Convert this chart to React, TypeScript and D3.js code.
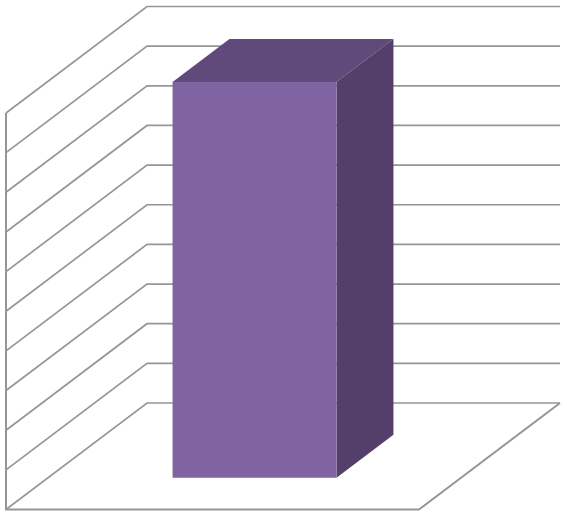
import React from 'react';
import * as d3 from 'd3';

const categories = ['Category 1'];
const seriesNames = ['Series 1'];
const values = [9.98];
const tickValues = [0, 1, 2, 3, 4, 5, 6, 7, 8, 9, 10];

const width = 567;
const height = 514;

const App: React.FC = () => {
  const svgRef = React.useRef<SVGSVGElement>(null);

  React.useEffect(() => {
    if (!svgRef.current) return;

    // Clear previous content
    d3.select(svgRef.current).selectAll('*').remove();
    const svg = d3.select(svgRef.current);

    // Corner of the floor nearest the viewer
    const originX = 6;
    const originY = 509.5;
    const floorWidth = 413;
    const wallHeight = 396.5;

    const x = d3.scaleBand().domain(categories).range([0, floorWidth]).padding(0.4316);
    const depth = d3.scaleBand().domain(seriesNames).range([0, 1]).padding(0.425);
    const y = d3.scaleLinear().domain([0, 10]).range([0, wallHeight]);
    const depthX = d3.scaleLinear().domain([0, 1]).range([0, 141]);
    const depthY = d3.scaleLinear().domain([0, 1]).range([0, 106.5]);

    // Project chart coords (along floor, along depth, value) to the page
    const project = (a: number, d: number, v: number): [number, number] => [
      originX + a + depthX(d),
      originY - depthY(d) - y(v),
    ];
    const line = d3.line();

    const grid = svg.append('g')
      .attr('fill', 'none')
      .attr('stroke', '#969696')
      .attr('stroke-width', 1.7);

    // Gridlines run up the side wall then along the back wall
    grid.selectAll('path.tick')
      .data(tickValues)
      .enter().append('path')
      .attr('class', 'tick')
      .attr('d', d => line([project(0, 0, d), project(0, 1, d), project(floorWidth, 1, d)]));

    // Front edge of the side wall and the floor outline
    grid.append('path')
      .attr('stroke-width', 2)
      .attr('d', line([project(0, 0, 10), project(0, 0, 0), project(floorWidth, 0, 0), project(floorWidth, 1, 0)]));

    // Bars
    const bars = svg.append('g');
    categories.forEach((c, i) => {
      const x0 = x(c) || 0;
      const x1 = x0 + x.bandwidth();
      const d0 = depth(seriesNames[0]) || 0;
      const d1 = d0 + depth.bandwidth();
      const v = values[i];

      bars.append('path')
        .attr('fill', '#604a7b')
        .attr('d', line([project(x0, d0, v), project(x0, d1, v), project(x1, d1, v), project(x1, d0, v)]) + 'Z');
      bars.append('path')
        .attr('fill', '#533f69')
        .attr('d', line([project(x1, d0, 0), project(x1, d1, 0), project(x1, d1, v), project(x1, d0, v)]) + 'Z');
      bars.append('path')
        .attr('fill', '#8064a2')
        .attr('d', line([project(x0, d0, 0), project(x1, d0, 0), project(x1, d0, v), project(x0, d0, v)]) + 'Z');
    });
  }, []);

  return (
    <svg
      ref={svgRef}
      width={width}
      height={height}
      viewBox={`0 0 ${width} ${height}`}
      style={{ position: 'absolute', left: 0, top: 0, background: '#fff' }}
    />
  );
};

export default App;
